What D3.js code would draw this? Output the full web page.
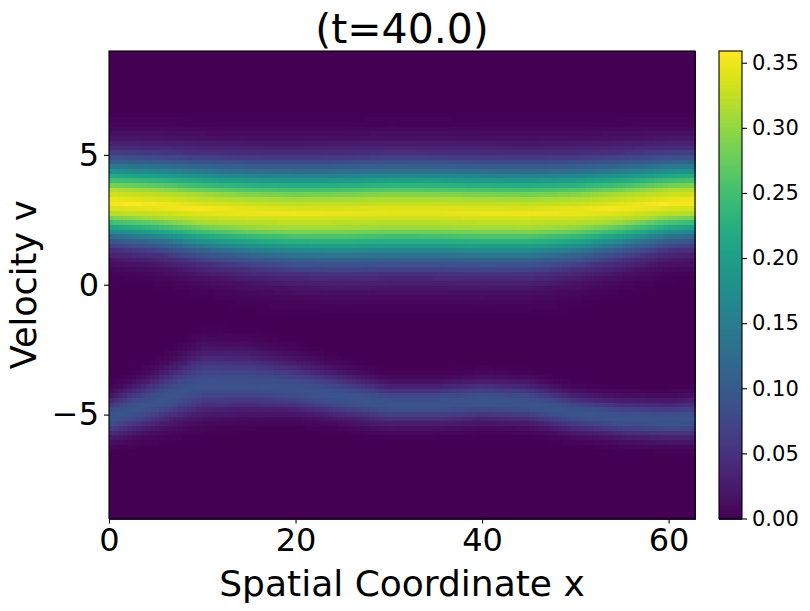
<!DOCTYPE html>
<html>
<head>
<meta charset="utf-8">
<script src="https://cdn.jsdelivr.net/npm/d3@7"></script>
<style>
    body { margin: 0; background: #fff; }
    text { font-family: "DejaVu Sans", sans-serif; fill: #000; }
</style>
</head>
<body>
<div id="chart"></div>
<script>
var knotX = [0, 5, 10, 15, 20, 25, 30, 35, 40, 45, 50, 55, 60, 62.83];

// strong beam around v = 3
var upperCenter = [3.2, 3.1, 2.95, 2.85, 2.8, 2.82, 2.87, 2.86, 2.82, 2.8, 2.86, 3.0, 3.18, 3.22];
var upperPeak = [0.359, 0.357, 0.355, 0.352, 0.35, 0.349, 0.349, 0.349, 0.35, 0.35, 0.352, 0.355, 0.358, 0.359];
var upperWidthTop = [1.02, 1.05, 1.08, 1.1, 1.12, 1.12, 1.12, 1.12, 1.12, 1.12, 1.1, 1.07, 1.03, 1.02];
var upperWidthBottom = [0.9, 0.95, 1.05, 1.12, 1.18, 1.22, 1.22, 1.22, 1.22, 1.2, 1.12, 1.02, 0.92, 0.9];

// weak beam around v = -5
var lowerCenter = [-5.1, -4.5, -3.8, -3.8, -4.0, -4.3, -4.55, -4.55, -4.45, -4.55, -4.9, -5.1, -5.2, -5.15];
var lowerPeak = [0.095, 0.093, 0.09, 0.09, 0.092, 0.094, 0.095, 0.095, 0.095, 0.095, 0.095, 0.095, 0.095, 0.095];
var lowerWidthTop = [0.48, 0.62, 0.8, 0.75, 0.65, 0.55, 0.45, 0.45, 0.49, 0.48, 0.43, 0.43, 0.45, 0.48];
var lowerWidthBottom = [0.48, 0.57, 0.7, 0.63, 0.53, 0.5, 0.49, 0.48, 0.47, 0.46, 0.45, 0.45, 0.45, 0.48];

// beam cross-section: relative height against distance in widths
var profileDist = [0, 0.5, 1, 1.5, 2, 2.5, 3, 3.5, 4];
var profileRel = [1, 0.88, 0.61, 0.32, 0.135, 0.044, 0.011, 0.002, 0];

var xTicks = [0, 20, 40, 60];
var vTicks = [-5, 0, 5];
var cbTicks = [0, 0.05, 0.1, 0.15, 0.2, 0.25, 0.3, 0.35];

var xMax = 62.83, vMin = -9, vMax = 9, zMax = 0.359;
var nx = 128, nv = 100;

var W = 810, H = 611,
    plotL = 109, plotR = 695, plotT = 51, plotB = 518.5,
    cbL = 719, cbR = 742;

var svg = d3.select("#chart").append("svg")
    .attr("width", W)
    .attr("height", H);

var x = d3.scaleLinear().domain([0, xMax]).range([plotL, plotR]),
    y = d3.scaleLinear().domain([vMin, vMax]).range([plotB, plotT]),
    color = d3.scaleSequential(d3.interpolateViridis).domain([0, zMax]),
    profile = d3.scaleLinear().domain(profileDist).range(profileRel).clamp(true);

function along(values) {
    return d3.scaleLinear().domain(knotX).range(values);
}

var beams = [
    {c: along(upperCenter), p: along(upperPeak), wt: along(upperWidthTop), wb: along(upperWidthBottom)},
    {c: along(lowerCenter), p: along(lowerPeak), wt: along(lowerWidthTop), wb: along(lowerWidthBottom)}
];

var dx = xMax / nx, dv = (vMax - vMin) / nv, cells = [];
for (var i = 0; i < nx; i++) {
    var xc = (i + 0.5) * dx;
    for (var j = 0; j < nv; j++) {
        var vc = vMin + (j + 0.5) * dv, f = 0;
        beams.forEach(function(b) {
            var d = vc - b.c(xc),
                w = d > 0 ? b.wt(xc) : b.wb(xc);
            f += b.p(xc) * profile(Math.abs(d) / w);
        });
        cells.push({x0: i * dx, v0: vMin + j * dv, f: f});
    }
}

svg.append("g")
    .attr("shape-rendering", "crispEdges")
    .selectAll("rect")
    .data(cells)
    .enter().append("rect")
    .attr("x", function(d) { return x(d.x0); })
    .attr("y", function(d) { return y(d.v0 + dv); })
    .attr("width", x(dx) - x(0) + 1)
    .attr("height", y(vMin) - y(vMin + dv) + 1)
    .attr("fill", function(d) { return color(Math.min(d.f, zMax)); });

svg.append("rect")
    .attr("x", plotL).attr("y", plotT)
    .attr("width", plotR - plotL).attr("height", plotB - plotT)
    .attr("fill", "none").attr("stroke", "#000").attr("stroke-width", 1.1);

var xAxis = svg.append("g")
    .attr("transform", "translate(0," + plotB + ")")
    .call(d3.axisBottom(x).tickValues(xTicks).tickSize(5).tickPadding(5).tickSizeOuter(0));
var yAxis = svg.append("g")
    .attr("transform", "translate(" + plotL + ",0)")
    .call(d3.axisLeft(y).tickValues(vTicks).tickSize(5).tickPadding(5).tickSizeOuter(0));

[xAxis, yAxis].forEach(function(g) {
    g.select(".domain").remove();
    g.selectAll("line").attr("stroke", "#000").attr("stroke-width", 1.1);
    g.selectAll("text").attr("font-size", 32).attr("font-family", "DejaVu Sans").attr("fill", "#000");
});

// colorbar
var cb = d3.scaleLinear().domain([0, zMax]).range([plotB, plotT]),
    steps = d3.range(0, 256).map(function(k) { return k / 256 * zMax; });

svg.append("g")
    .attr("shape-rendering", "crispEdges")
    .selectAll("rect")
    .data(steps)
    .enter().append("rect")
    .attr("x", cbL)
    .attr("y", function(d) { return cb(d + zMax / 256); })
    .attr("width", cbR - cbL)
    .attr("height", cb(0) - cb(zMax / 256) + 1)
    .attr("fill", function(d) { return color(d + zMax / 512); });

svg.append("rect")
    .attr("x", cbL).attr("y", plotT)
    .attr("width", cbR - cbL).attr("height", plotB - plotT)
    .attr("fill", "none").attr("stroke", "#000").attr("stroke-width", 1.1);

var cbAxis = svg.append("g")
    .attr("transform", "translate(" + cbR + ",0)")
    .call(d3.axisRight(cb).tickValues(cbTicks).tickFormat(d3.format(".2f")).tickSize(5).tickPadding(5).tickSizeOuter(0));
cbAxis.select(".domain").remove();
cbAxis.selectAll("line").attr("stroke", "#000").attr("stroke-width", 1.1);
cbAxis.selectAll("text").attr("font-size", 21).attr("font-family", "DejaVu Sans").attr("fill", "#000");

// labels
svg.append("text")
    .attr("x", (plotL + plotR) / 2).attr("y", 43)
    .attr("text-anchor", "middle").attr("font-size", 41)
    .text("(t=40.0)");

svg.append("text")
    .attr("x", (plotL + plotR) / 2).attr("y", 596)
    .attr("text-anchor", "middle").attr("font-size", 36)
    .text("Spatial Coordinate x");

svg.append("text")
    .attr("transform", "translate(36," + (plotT + plotB) / 2 + ") rotate(-90)")
    .attr("text-anchor", "middle").attr("font-size", 35)
    .text("Velocity v");
</script>
</body>
</html>
